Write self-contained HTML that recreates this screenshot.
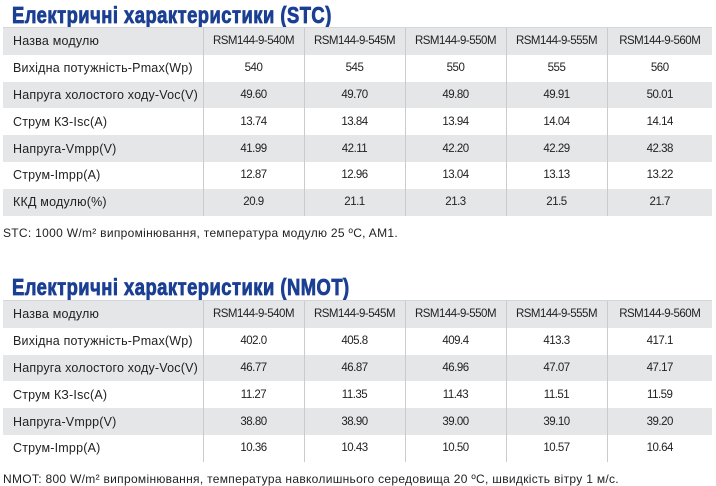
<!DOCTYPE html>
<html><head><meta charset="utf-8"><style>
body{margin:0;width:716px;height:485px;background:#fff;position:relative;overflow:hidden;font-family:"Liberation Sans",sans-serif;color:#222}
.t{position:absolute;left:12px;font-weight:bold;font-size:23px;color:#1b3f93;transform:scaleX(0.8);transform-origin:left top;white-space:nowrap;letter-spacing:0.6px;-webkit-text-stroke:0.8px #1b3f93}
table{position:absolute;left:3px;width:709px;border-collapse:collapse;table-layout:fixed;font-size:12px}
td{height:26.8px;padding:0;text-align:center;border-left:1px solid #c9cbcf;letter-spacing:-0.5px;font-size:11.5px}
td:first-child{text-align:left;padding-left:10px;border-left:none;letter-spacing:0.2px;font-size:12.5px}
tr.g td{background:#e5e6e8}
tr:first-child td{border-top:1px solid #d4d6d9}
.n{position:absolute;left:3px;font-size:12px;letter-spacing:0.3px;white-space:nowrap}
</style></head><body>
<div class="t" style="top:2px">Електричні характеристики (STC)</div>
<table style="top:27px">
<colgroup><col style="width:200px"><col style="width:101px"><col style="width:101px"><col style="width:101px"><col style="width:101px"><col style="width:105px"></colgroup>
<tr class="g"><td>Назва модулю</td><td>RSM144-9-540M</td><td>RSM144-9-545M</td><td>RSM144-9-550M</td><td>RSM144-9-555M</td><td>RSM144-9-560M</td></tr>
<tr><td>Вихідна потужність-Pmax(Wp)</td><td>540</td><td>545</td><td>550</td><td>555</td><td>560</td></tr>
<tr class="g"><td>Напруга холостого ходу-Voc(V)</td><td>49.60</td><td>49.70</td><td>49.80</td><td>49.91</td><td>50.01</td></tr>
<tr><td>Струм КЗ-Isc(A)</td><td>13.74</td><td>13.84</td><td>13.94</td><td>14.04</td><td>14.14</td></tr>
<tr class="g"><td>Напруга-Vmpp(V)</td><td>41.99</td><td>42.11</td><td>42.20</td><td>42.29</td><td>42.38</td></tr>
<tr><td>Струм-Impp(A)</td><td>12.87</td><td>12.96</td><td>13.04</td><td>13.13</td><td>13.22</td></tr>
<tr class="g"><td>ККД модулю(%)</td><td>20.9</td><td>21.1</td><td>21.3</td><td>21.5</td><td>21.7</td></tr>
</table>
<div class="n" style="top:226px">STC: 1000 W/m² випромінювання, температура модулю 25 ºC, AM1.</div>
<div class="t" style="top:274px">Електричні характеристики (NMOT)</div>
<table style="top:300px">
<colgroup><col style="width:200px"><col style="width:101px"><col style="width:101px"><col style="width:101px"><col style="width:101px"><col style="width:105px"></colgroup>
<tr class="g"><td>Назва модулю</td><td>RSM144-9-540M</td><td>RSM144-9-545M</td><td>RSM144-9-550M</td><td>RSM144-9-555M</td><td>RSM144-9-560M</td></tr>
<tr><td>Вихідна потужність-Pmax(Wp)</td><td>402.0</td><td>405.8</td><td>409.4</td><td>413.3</td><td>417.1</td></tr>
<tr class="g"><td>Напруга холостого ходу-Voc(V)</td><td>46.77</td><td>46.87</td><td>46.96</td><td>47.07</td><td>47.17</td></tr>
<tr><td>Струм КЗ-Isc(A)</td><td>11.27</td><td>11.35</td><td>11.43</td><td>11.51</td><td>11.59</td></tr>
<tr class="g"><td>Напруга-Vmpp(V)</td><td>38.80</td><td>38.90</td><td>39.00</td><td>39.10</td><td>39.20</td></tr>
<tr><td>Струм-Impp(A)</td><td>10.36</td><td>10.43</td><td>10.50</td><td>10.57</td><td>10.64</td></tr>
</table>
<div class="n" style="top:472px">NMOT: 800 W/m² випромінювання, температура навколишнього середовища 20 ºC, швидкість вітру 1 м/с.</div>
</body></html>
